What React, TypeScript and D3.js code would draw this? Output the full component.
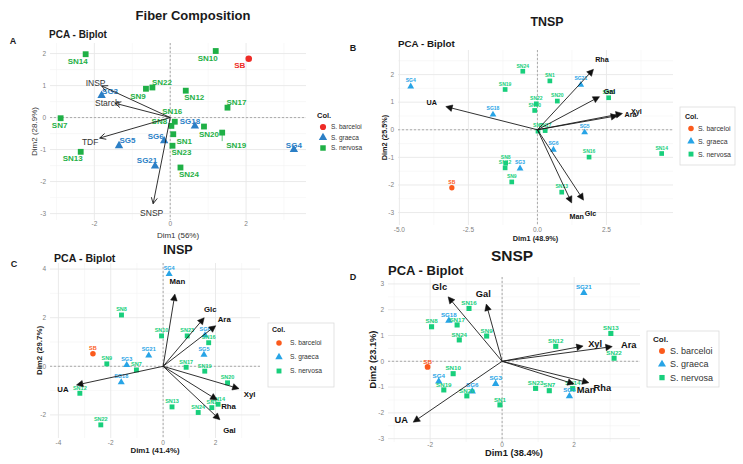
import React from "react";
import * as d3 from "d3";

const FONT = "'Liberation Sans', Arial, Helvetica, sans-serif";
const W = 743;
const H = 464;

const groups = ["S. barceloi", "S. graeca", "S. nervosa"];
const groupShapes = [d3.symbolCircle, d3.symbolTriangle, d3.symbolSquare];

// individuals: [label, group index, Dim1, Dim2]
type Ind = [string, number, number, number];
// variable loadings: [label, Dim1, Dim2]
type Var = [string, number, number];

const fiberInd: Ind[] = [
  ["SN14", 2, -2.23, 1.98], ["SN10", 2, 1.2, 2.08], ["SB", 0, 2.07, 1.84],
  ["SN22", 2, -0.47, 0.94], ["SN9", 2, -0.64, 0.9], ["SN12", 2, 0.41, 0.84],
  ["SG3", 1, -1.81, 0.71], ["SN17", 2, 1.51, 0.31], ["SN7", 2, -2.89, -0.02],
  ["SN16", 2, 0.12, -0.13], ["SN8", 2, 0.03, -0.26], ["SG18", 1, 0.65, -0.25],
  ["SN20", 2, 0.89, -0.28], ["SN19", 2, 1.37, -0.47], ["SG4", 1, 3.26, -0.98],
  ["SG6", 1, -0.16, -0.71], ["SN1", 2, 0.08, -0.52], ["SN23", 2, 0.06, -0.88],
  ["SG5", 1, -1.35, -0.86], ["SN13", 2, -2.36, -1.07], ["SG21", 1, -0.4, -1.5],
  ["SN24", 2, 0.27, -1.56],
];
const fiberVar: Var[] = [
  ["INSP", -1.81, 0.99], ["Starch", -1.46, 0.45], ["TDF", -1.86, -0.64], ["SNSP", -0.45, -2.69],
];

const tnspInd: Ind[] = [
  ["SG4", 1, -4.59, 1.59], ["SN24", 2, -0.53, 2.12], ["SN1", 2, 0.45, 1.77],
  ["SG21", 1, 1.57, 1.65], ["SN19", 2, -1.17, 1.46], ["SN20", 2, 0.72, 1.04],
  ["SN22", 2, -0.04, 0.94], ["SN10", 2, -0.1, 0.7], ["SG18", 1, -1.61, 0.57],
  ["SN23", 2, 2.58, 1.16], ["SG5", 1, 1.71, -0.07], ["SG6", 1, 0.58, -0.7],
  ["SN16", 2, 1.87, -0.99], ["SN14", 2, 4.5, -0.86], ["SN8", 2, -1.15, -1.21],
  ["SN12", 2, -1.17, -1.38], ["SG3", 1, -0.63, -1.38], ["SN9", 2, -0.93, -1.89],
  ["SN13", 2, 0.88, -2.26], ["SB", 0, -3.1, -2.1], ["SN7", 2, 0.02, -0.05],
  ["SN17", 2, 0.28, -0.03],
];
const tnspVar: Var[] = [
  ["Rha", 2.03, 2.19], ["Gal", 2.25, 1.2], ["Xyl", 3.08, 0.59], ["Ara", 2.9, 0.51],
  ["UA", -3.32, 0.84], ["Man", 1.24, -2.65], ["Glc", 1.67, -2.55],
];

const inspInd: Ind[] = [
  ["SG4", 1, 0.23, 3.82], ["SN8", 2, -1.59, 2.11], ["SN10", 2, -0.06, 1.25],
  ["SN23", 2, 0.92, 1.25], ["SG6", 1, 1.6, 1.3], ["SN16", 2, 1.74, 0.97],
  ["SG5", 1, 1.56, 0.5], ["SB", 0, -2.68, 0.52], ["SN9", 2, -2.15, 0.1],
  ["SG3", 1, -1.39, 0.08], ["SG21", 1, -0.55, 0.47], ["SN7", 2, -1.02, -0.15],
  ["SG18", 1, -1.6, -0.63], ["SN12", 2, -3.18, -1.11], ["SN17", 2, 0.88, -0.04],
  ["SN19", 2, 1.59, -0.2], ["SN20", 2, 2.46, -0.68], ["SN13", 2, 0.34, -1.67],
  ["SN24", 2, 1.34, -1.9], ["SN1", 2, 1.86, -1.7], ["SN14", 2, 2.1, -1.56],
  ["SN22", 2, -2.38, -2.41],
];
const inspVar: Var[] = [
  ["Man", 0.45, 2.97], ["Glc", 1.57, 2.0], ["Ara", 2.01, 1.67], ["Xyl", 2.9, -0.92],
  ["Rha", 2.06, -1.38], ["Gal", 2.17, -2.2], ["UA", -3.31, -0.77],
];

const snspInd: Ind[] = [
  ["SG21", 1, 2.27, 2.68], ["SN16", 2, -0.92, 2.05], ["SG18", 1, -1.48, 1.6],
  ["SN17", 2, -1.25, 1.41], ["SN8", 2, -1.96, 1.34], ["SN24", 2, -1.19, 0.83],
  ["SN9", 2, -0.43, 0.98], ["SN13", 2, 3.02, 1.08], ["SN12", 2, 1.49, 0.58],
  ["SN22", 2, 3.11, 0.12], ["SB", 0, -2.07, -0.22], ["SN10", 2, -1.36, -0.48],
  ["SG4", 1, -1.76, -0.76], ["SG3", 1, -0.18, -0.85], ["SN19", 2, -1.62, -1.11],
  ["SG6", 1, -0.83, -1.14], ["SN20", 2, -0.98, -1.34], ["SN1", 2, -0.06, -1.69],
  ["SN23", 2, 0.93, -1.05], ["SN7", 2, 1.31, -1.14], ["SN14", 2, 1.96, -1.06],
  ["SG5", 1, 1.87, -1.33],
];
const snspVar: Var[] = [
  ["Glc", -1.5, 2.5], ["Gal", -0.44, 2.22], ["Xyl", 2.25, 0.59], ["Ara", 3.06, 0.57],
  ["Man", 2.0, -0.88], ["Rha", 2.41, -0.83], ["UA", -2.47, -2.36],
];

// label nudges in px (repelled labels of the first biplot)
const fiberIndNudge: Record<string, number[]> = {
  SN14: [-8, 7], SN10: [-8, 7], SB: [-9, 6.5], SN22: [9.5, -5.5], SN9: [-8, 7],
  SN12: [8.5, 7], SG3: [8.5, -4], SN17: [9, -5], SN7: [-1, 7], SN16: [-2.5, -11],
  SN8: [-12, -4.5], SG18: [-5, -4.5], SN20: [5, 7.5], SN19: [14, 12.5, 1],
  SG4: [0, -4], SG6: [-8.5, -4.5], SN1: [11, 6.5], SN23: [9, 6.5], SG5: [8.5, -4.5],
  SN13: [-8, 6.5], SG21: [-8, -5], SN24: [8.5, 6.5],
};
const fiberVarNudge: Record<string, number[]> = {
  INSP: [-6, -2.5], Starch: [-7.5, -0.5], TDF: [-9.5, 3.5], SNSP: [-1.5, 9.5],
};
const tnspVarNudge: Record<string, number[]> = {
  Rha: [8.5, -9.5], Gal: [10, -5], Xyl: [14, -2], Ara: [13, -1.5], UA: [-14, -4.5],
  Man: [5, 13.5], Glc: [7, 13],
};
const inspVarNudge: Record<string, number[]> = {
  Man: [2.5, -13], Glc: [6, -8.5], Ara: [8.5, -6.5], Xyl: [10.5, 5.5], Rha: [11.5, 6.5],
  Gal: [9.5, 10], UA: [-13.5, 4.5],
};
const snspVarNudge: Record<string, number[]> = {
  Glc: [-8.5, -10.5], Gal: [-3, -10], Xyl: [12, -2.5], Ara: [16.5, -1.5], Man: [12, 6],
  Rha: [13.5, 5.5], UA: [-12, -2],
};

const fiberColors = ["#ee2b26", "#2b7fc6", "#1fb046"];
const sugarColors = ["#fb5a1c", "#27a4e6", "#18cf7c"];

type Panel = {
  x0: number; x1: number; y0: number; y1: number;
  xDom: number[]; yDom: number[]; xTicks: number[]; yTicks: number[];
  xFmt: (v: number) => string;
  ind: Ind[]; vars: Var[];
  indNudge?: Record<string, number[]>; varNudge: Record<string, number[]>;
  colors: string[]; ptSize: number; ptFont: number; varFont: number; varBold: boolean;
  openHead: boolean; tickFont: number;
  xTitle: string; yTitle: string; axisFont: number; axisBold: boolean;
  xTitleY: number; yTitleX: number; xTickGap: number;
};

function Biplot({ p }: { p: Panel }) {
  const sx = d3.scaleLinear().domain(p.xDom).range([p.x0, p.x1]);
  const sy = d3.scaleLinear().domain(p.yDom).range([p.y1, p.y0]);
  const minor = (ticks: number[], dom: number[]) => {
    const step = ticks[1] - ticks[0];
    const out: number[] = [];
    for (let v = ticks[0] - step / 2; v <= dom[1]; v += step) if (v >= dom[0]) out.push(v);
    return out;
  };
  const ox = sx(0), oy = sy(0);
  const axisColor = p.axisBold ? "#1a1a1a" : "#333";
  return (
    <g fontFamily={FONT}>
      {minor(p.xTicks, p.xDom).map((v) => (
        <line key={"mx" + v} x1={sx(v)} x2={sx(v)} y1={p.y0} y2={p.y1} stroke="#f3f3f3" strokeWidth={0.6} />
      ))}
      {minor(p.yTicks, p.yDom).map((v) => (
        <line key={"my" + v} y1={sy(v)} y2={sy(v)} x1={p.x0} x2={p.x1} stroke="#f3f3f3" strokeWidth={0.6} />
      ))}
      {p.xTicks.map((v) => (
        <line key={"gx" + v} x1={sx(v)} x2={sx(v)} y1={p.y0} y2={p.y1} stroke="#e8e8e8" strokeWidth={0.9} />
      ))}
      {p.yTicks.map((v) => (
        <line key={"gy" + v} y1={sy(v)} y2={sy(v)} x1={p.x0} x2={p.x1} stroke="#e8e8e8" strokeWidth={0.9} />
      ))}
      <line x1={ox} x2={ox} y1={p.y0} y2={p.y1} stroke="#9a9a9a" strokeWidth={0.8} strokeDasharray="2,2" />
      <line y1={oy} y2={oy} x1={p.x0} x2={p.x1} stroke="#9a9a9a" strokeWidth={0.8} strokeDasharray="2,2" />
      {p.xTicks.map((v) => (
        <text key={"tx" + v} x={sx(v)} y={p.y1 + p.xTickGap} fontSize={p.tickFont} fill="#7f7f7f" textAnchor="middle">
          {p.xFmt(v)}
        </text>
      ))}
      {p.yTicks.map((v) => (
        <text key={"ty" + v} x={p.x0 - 4} y={sy(v)} dy="0.35em" fontSize={p.tickFont} fill="#7f7f7f" textAnchor="end">
          {v}
        </text>
      ))}
      <text x={(p.x0 + p.x1) / 2} y={p.xTitleY} fontSize={p.axisFont} fontWeight={p.axisBold ? "bold" : "normal"}
        fill={axisColor} textAnchor="middle">{p.xTitle}</text>
      <text transform={`translate(${p.yTitleX},${(p.y0 + p.y1) / 2}) rotate(-90)`} fontSize={p.axisFont}
        fontWeight={p.axisBold ? "bold" : "normal"} fill={axisColor} textAnchor="middle" dy="0.35em">{p.yTitle}</text>

      {p.ind.map(([name, g, x, y]) => {
        const px = sx(x), py = sy(y);
        const nudge = p.indNudge ? p.indNudge[name] : [0, -5.5];
        const sym = d3.symbol(groupShapes[g], g === 1 ? p.ptSize * 0.9 : p.ptSize)();
        return (
          <g key={"i" + name}>
            {nudge[2] ? (
              <line x1={px} y1={py + 2} x2={px} y2={py + nudge[1] - 4} stroke={p.colors[g]} strokeWidth={0.7} />
            ) : null}
            <path d={sym!} transform={`translate(${px},${py + (g === 1 ? 0.6 : 0)})`} fill={p.colors[g]} />
            <text x={px + nudge[0]} y={py + nudge[1]} dy="0.35em" fontSize={p.ptFont} fontWeight="bold"
              fill={p.colors[g]} textAnchor="middle">{name}</text>
          </g>
        );
      })}

      {p.vars.map(([name, x, y]) => {
        const ex = sx(x), ey = sy(y);
        const a = Math.atan2(ey - oy, ex - ox);
        const L = p.openHead ? 6 : 6.5, hw = p.openHead ? 3 : 3.3;
        const bx = ex - L * Math.cos(a), by = ey - L * Math.sin(a);
        const p1 = [bx + hw * Math.sin(a), by - hw * Math.cos(a)];
        const p2 = [bx - hw * Math.sin(a), by + hw * Math.cos(a)];
        const nudge = p.varNudge[name];
        return (
          <g key={"v" + name}>
            <line x1={ox} y1={oy} x2={p.openHead ? ex : bx} y2={p.openHead ? ey : by} stroke="#1a1a1a" strokeWidth={0.9} />
            {p.openHead ? (
              <path d={`M${p1[0]},${p1[1]}L${ex},${ey}L${p2[0]},${p2[1]}`} fill="none" stroke="#1a1a1a" strokeWidth={0.9} />
            ) : (
              <path d={`M${ex},${ey}L${p1[0]},${p1[1]}L${p2[0]},${p2[1]}Z`} fill="#111" stroke="#111" strokeWidth={0.5} />
            )}
            <text x={ex + nudge[0]} y={ey + nudge[1]} dy="0.35em" fontSize={p.varFont}
              fontWeight={p.varBold ? "bold" : "normal"} fill={p.varBold ? "#111" : "#333"} textAnchor="middle">
              {name}
            </text>
          </g>
        );
      })}
    </g>
  );
}

type LegendCfg = {
  box?: number[]; titleX: number; titleY: number; keyX: number; textX: number;
  y0: number; gap: number; titleFont: number; font: number; keySize: number; colors: string[];
};

function Legend({ l }: { l: LegendCfg }) {
  return (
    <g fontFamily={FONT}>
      {l.box ? (
        <rect x={l.box[0]} y={l.box[1]} width={l.box[2]} height={l.box[3]} fill="white" stroke="#dcdcdc" strokeWidth={0.8} />
      ) : null}
      <text x={l.titleX} y={l.titleY} dy="0.35em" fontSize={l.titleFont} fontWeight="bold" fill="#1a1a1a">Col.</text>
      {groups.map((g, i) => (
        <g key={g}>
          <path d={d3.symbol(groupShapes[i], l.keySize)()!} transform={`translate(${l.keyX},${l.y0 + i * l.gap})`}
            fill={l.colors[i]} />
          <text x={l.textX} y={l.y0 + i * l.gap} dy="0.35em" fontSize={l.font} fill="#333">{g}</text>
        </g>
      ))}
    </g>
  );
}

const fmtInt = (v: number) => String(v);
const fmtOne = (v: number) => v.toFixed(1);

const panelA: Panel = {
  x0: 50, x1: 306, y0: 43, y1: 220, xDom: [-3.17, 3.58], yDom: [-3.2, 2.33],
  xTicks: [-2, 0, 2], yTicks: [-3, -2, -1, 0, 1, 2], xFmt: fmtInt,
  ind: fiberInd, vars: fiberVar, indNudge: fiberIndNudge, varNudge: fiberVarNudge,
  colors: fiberColors, ptSize: 34, ptFont: 8, varFont: 8.5, varBold: false, openHead: true, tickFont: 6.5,
  xTitle: "Dim1 (56%)", yTitle: "Dim2 (28.9%)", axisFont: 8, axisBold: false,
  xTitleY: 238, yTitleX: 34, xTickGap: 6,
};
const panelB: Panel = {
  x0: 398, x1: 673, y0: 50, y1: 225, xDom: [-5.05, 4.91], yDom: [-3.45, 2.89],
  xTicks: [-5, -2.5, 0, 2.5], yTicks: [-3, -2, -1, 0, 1, 2], xFmt: fmtOne,
  ind: tnspInd, vars: tnspVar, varNudge: tnspVarNudge,
  colors: sugarColors, ptSize: 22, ptFont: 5, varFont: 7.2, varBold: true, openHead: false, tickFont: 6.5,
  xTitle: "Dim1 (48.9%)", yTitle: "Dim2 (25.5%)", axisFont: 7.3, axisBold: true,
  xTitleY: 241, yTitleX: 384, xTickGap: 6.5,
};
const panelC: Panel = {
  x0: 50, x1: 260, y0: 263, y1: 438, xDom: [-4.32, 3.7], yDom: [-2.95, 4.25],
  xTicks: [-4, -2, 0, 2], yTicks: [-2, 0, 2, 4], xFmt: fmtInt,
  ind: inspInd, vars: inspVar, varNudge: inspVarNudge,
  colors: sugarColors, ptSize: 24, ptFont: 5.5, varFont: 7.8, varBold: true, openHead: false, tickFont: 6.5,
  xTitle: "Dim1 (41.4%)", yTitle: "Dim2 (29.7%)", axisFont: 7.9, axisBold: true,
  xTitleY: 453, yTitleX: 39.5, xTickGap: 6.5,
};
const panelD: Panel = {
  x0: 388, x1: 640, y0: 277, y1: 442, xDom: [-3.17, 3.83], yDom: [-3.13, 3.27],
  xTicks: [-2, 0, 2], yTicks: [-3, -2, -1, 0, 1, 2, 3], xFmt: fmtInt,
  ind: snspInd, vars: snspVar, varNudge: snspVarNudge,
  colors: sugarColors, ptSize: 26, ptFont: 6.2, varFont: 9.3, varBold: true, openHead: false, tickFont: 6.5,
  xTitle: "Dim1 (38.4%)", yTitle: "Dim2 (23.1%)", axisFont: 9.3, axisBold: true,
  xTitleY: 456, yTitleX: 373, xTickGap: 5,
};

const legendA: LegendCfg = {
  titleX: 317, titleY: 115, keyX: 323, textX: 331, y0: 127, gap: 10.5, titleFont: 7.5, font: 6.5, keySize: 30,
  colors: fiberColors,
};
const legendB: LegendCfg = {
  box: [680, 107, 55, 58], titleX: 685, titleY: 117, keyX: 691, textX: 698, y0: 128.5, gap: 12.8,
  titleFont: 7, font: 6.9, keySize: 24, colors: sugarColors,
};
const legendC: LegendCfg = {
  box: [268, 323, 66, 64], titleX: 272, titleY: 330, keyX: 279, textX: 290, y0: 343, gap: 14,
  titleFont: 7, font: 6.7, keySize: 24, colors: sugarColors,
};
const legendD: LegendCfg = {
  box: [647, 331, 72, 56], titleX: 653, titleY: 339, keyX: 662, textX: 670, y0: 351, gap: 13.3,
  titleFont: 8, font: 9, keySize: 28, colors: sugarColors,
};

export default function App() {
  return (
    <svg width={W} height={H} style={{ display: "block", position: "absolute", left: 0, top: 0 }}>
      <rect width={W} height={H} fill="white" />
      <g fontFamily={FONT} fontWeight="bold" fill="#1a1a1a">
        <text x={193} y={19.5} fontSize={13} textAnchor="middle">Fiber Composition</text>
        <text x={547} y={26} fontSize={12.4} textAnchor="middle">TNSP</text>
        <text x={178} y={254} fontSize={12.6} textAnchor="middle">INSP</text>
        <text x={512} y={261} fontSize={15.5} textAnchor="middle">SNSP</text>
        <text x={49} y={38} fontSize={10}>PCA - Biplot</text>
        <text x={398} y={47} fontSize={9.8}>PCA - Biplot</text>
        <text x={54} y={262} fontSize={10.6}>PCA - Biplot</text>
        <text x={388} y={275} fontSize={13}>PCA - Biplot</text>
        <text x={13} y={44} fontSize={9} textAnchor="middle">A</text>
        <text x={353} y={51} fontSize={9} textAnchor="middle">B</text>
        <text x={14} y={267} fontSize={9} textAnchor="middle">C</text>
        <text x={353} y={280} fontSize={9} textAnchor="middle">D</text>
      </g>
      <Biplot p={panelA} />
      <Biplot p={panelB} />
      <Biplot p={panelC} />
      <Biplot p={panelD} />
      <Legend l={legendA} />
      <Legend l={legendB} />
      <Legend l={legendC} />
      <Legend l={legendD} />
    </svg>
  );
}
